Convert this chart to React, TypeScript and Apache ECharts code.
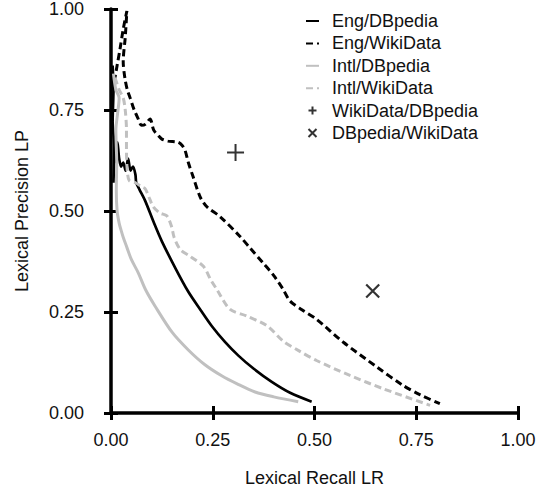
import React, { useEffect, useRef } from "react";
import * as echarts from "echarts";

const xTicks = [0, 0.25, 0.5, 0.75, 1.0];
const yTicks = [0, 0.25, 0.5, 0.75, 1.0];

const seriesNames = [
  "Eng/DBpedia",
  "Eng/WikiData",
  "Intl/DBpedia",
  "Intl/WikiData",
  "WikiData/DBpedia",
  "DBpedia/WikiData",
];

const engDBpedia: number[][] = [
  [0.004, 0.86], [0.006, 0.8], [0.004, 0.72], [0.008, 0.66], [0.006, 0.57],
  [0.01, 0.66], [0.013, 0.62], [0.016, 0.67], [0.02, 0.63], [0.025, 0.61],
  [0.03, 0.62], [0.036, 0.6], [0.042, 0.63], [0.048, 0.6], [0.054, 0.61],
  [0.06, 0.59], [0.062, 0.57], [0.07, 0.553], [0.084, 0.525], [0.105, 0.472],
  [0.125, 0.425], [0.16, 0.355], [0.19, 0.3], [0.22, 0.255], [0.247, 0.216],
  [0.28, 0.176], [0.313, 0.142], [0.35, 0.11], [0.395, 0.077], [0.44, 0.05],
  [0.493, 0.028],
];

const engWikiData: number[][] = [
  [0.008, 0.82], [0.015, 0.86], [0.022, 0.9], [0.03, 0.95], [0.039, 0.995],
  [0.035, 0.93], [0.03, 0.87], [0.034, 0.83], [0.04, 0.8], [0.047, 0.78],
  [0.057, 0.75], [0.066, 0.73], [0.075, 0.712], [0.085, 0.715], [0.096, 0.728],
  [0.105, 0.7], [0.116, 0.687], [0.125, 0.678], [0.14, 0.673], [0.165, 0.67],
  [0.175, 0.662], [0.182, 0.65], [0.19, 0.62], [0.202, 0.584], [0.219, 0.535],
  [0.235, 0.511], [0.268, 0.486], [0.317, 0.437], [0.342, 0.408], [0.374, 0.371],
  [0.4, 0.34], [0.423, 0.306], [0.44, 0.277], [0.47, 0.255], [0.505, 0.232],
  [0.571, 0.175], [0.653, 0.114], [0.718, 0.068], [0.76, 0.045], [0.808, 0.023],
];

const intlDBpedia: number[][] = [
  [0.006, 0.84], [0.012, 0.8], [0.02, 0.78], [0.016, 0.74], [0.012, 0.7],
  [0.014, 0.62], [0.013, 0.55], [0.015, 0.5], [0.02, 0.47], [0.024, 0.455],
  [0.03, 0.435], [0.039, 0.41], [0.05, 0.38], [0.067, 0.347], [0.085, 0.305],
  [0.108, 0.265], [0.15, 0.2], [0.19, 0.156], [0.23, 0.12], [0.272, 0.092],
  [0.31, 0.072], [0.354, 0.052], [0.4, 0.04], [0.46, 0.028],
];

const intlWikiData: number[][] = [
  [0.01, 0.83], [0.02, 0.8], [0.03, 0.78], [0.035, 0.75], [0.038, 0.7],
  [0.038, 0.65], [0.04, 0.6], [0.045, 0.575], [0.06, 0.57], [0.075, 0.56],
  [0.084, 0.555], [0.095, 0.53], [0.104, 0.51], [0.12, 0.495], [0.137, 0.488],
  [0.149, 0.461], [0.155, 0.435], [0.17, 0.405], [0.194, 0.388], [0.227, 0.363],
  [0.245, 0.33], [0.26, 0.306], [0.292, 0.257], [0.333, 0.24], [0.383, 0.216],
  [0.423, 0.178], [0.46, 0.155], [0.505, 0.13], [0.587, 0.093], [0.669, 0.06],
  [0.784, 0.019],
];

const wikiDataDBpedia: number[][] = [[0.306, 0.645]];
const dbpediaWikiData: number[][] = [[0.643, 0.302]];

const PLUS = "path://M5,0 L5,10 M0,5 L10,5";
const CROSS = "path://M0,0 L10,10 M10,0 L0,10";

const FONT = "'Liberation Sans', Arial, Helvetica, sans-serif";
const GRAY = "#c0c0c0";

export default function App() {
  const ref = useRef<HTMLDivElement>(null);
  useEffect(() => {
    document.body.style.margin = "0";
    const chart = echarts.init(ref.current!, null, { renderer: "svg" });
    const axisCommon = {
      type: "value" as const,
      min: 0,
      max: 1,
      interval: 0.25,
      splitLine: { show: false },
    };
    const lineSeries = (name: string, data: number[][], color: string, dashed: boolean, width: number) => ({
      name,
      type: "line",
      data,
      symbol: "none",
      showSymbol: false,
      smooth: 0.3,
      lineStyle: { color, width, type: dashed ? [7, 4] : "solid" },
      itemStyle: { color: "rgba(0,0,0,0)", borderColor: "rgba(0,0,0,0)", borderWidth: 0 },
    });
    chart.setOption({
      animation: false,
      textStyle: { fontFamily: FONT },
      grid: { left: 111, top: 8.5, width: 407, height: 406, containLabel: false },
      xAxis: [
        {
          ...axisCommon,
          position: "bottom",
          name: "Lexical Recall LR",
          nameLocation: "middle",
          nameGap: 56,
          nameTextStyle: { fontSize: 18, color: "#111", fontFamily: FONT },
          axisLine: { show: true, onZero: false, lineStyle: { color: "#000", width: 3.5 } },
          axisTick: { show: true, inside: false, length: 7, lineStyle: { color: "#000", width: 3 } },
          axisLabel: {
            fontSize: 18, color: "#111", margin: 18, fontFamily: FONT,
            formatter: (v: number) => v.toFixed(2),
          },
          data: xTicks,
        },
        {
          ...axisCommon,
          position: "bottom",
          axisLine: { show: false, onZero: false },
          axisTick: { show: true, inside: true, length: 7, lineStyle: { color: "#000", width: 3 } },
          axisLabel: { show: false },
        },
      ],
      yAxis: [
        {
          ...axisCommon,
          position: "left",
          name: "Lexical Precision LP",
          nameLocation: "middle",
          nameGap: 80,
          nameTextStyle: { fontSize: 18, color: "#111", fontFamily: FONT },
          axisLine: { show: true, onZero: false, lineStyle: { color: "#000", width: 3.5 } },
          axisTick: { show: true, inside: false, length: 7, lineStyle: { color: "#000", width: 3 } },
          axisLabel: {
            fontSize: 18, color: "#111", margin: 27, fontFamily: FONT,
            formatter: (v: number) => v.toFixed(2),
          },
          data: yTicks,
        },
        {
          ...axisCommon,
          position: "left",
          axisLine: { show: false, onZero: false },
          axisTick: { show: true, inside: true, length: 7, lineStyle: { color: "#000", width: 3 } },
          axisLabel: { show: false },
        },
      ],
      legend: {
        orient: "vertical",
        left: 305,
        top: 12,
        padding: 0,
        itemWidth: 13,
        itemHeight: 8,
        itemGap: 4.4,
        textStyle: { fontSize: 18, color: "#111", fontFamily: FONT, lineHeight: 18, padding: [0, 0, 0, 8] },
        data: seriesNames.map((n) => ({ name: n })),
      },
      series: [
        lineSeries(seriesNames[0], engDBpedia, "#000", false, 2.7),
        lineSeries(seriesNames[1], engWikiData, "#000", true, 3),
        lineSeries(seriesNames[2], intlDBpedia, GRAY, false, 3),
        lineSeries(seriesNames[3], intlWikiData, GRAY, true, 3),
        {
          name: seriesNames[4],
          type: "scatter",
          data: wikiDataDBpedia,
          symbol: PLUS,
          symbolSize: 17,
          itemStyle: { color: "none", borderColor: "#000", borderWidth: 2 },
        },
        {
          name: seriesNames[5],
          type: "scatter",
          data: dbpediaWikiData,
          symbol: CROSS,
          symbolSize: 13,
          itemStyle: { color: "none", borderColor: "#000", borderWidth: 2.2 },
        },
      ],
    });
    return () => chart.dispose();
  }, []);
  return <div ref={ref} style={{ width: 548, height: 492 }} />;
}
